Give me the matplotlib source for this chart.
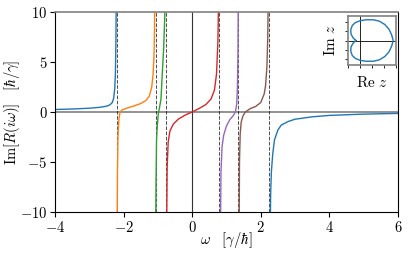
import numpy as np
import matplotlib
matplotlib.use("Agg")
import matplotlib.pyplot as plt

plt.rcParams['font.family'] = 'serif'
plt.rcParams['font.serif'] = ['cmr10', 'DejaVu Serif']
plt.rcParams['mathtext.fontset'] = 'cm'
plt.rcParams['axes.formatter.use_mathtext'] = True
plt.rcParams['font.size'] = 10.5

# polos (lineas discontinuas)
polos = [-2.2, -1.07, -0.77, 0.79, 1.35, 2.24]

# ramas de Im[R(iw)]
rama1_x = [-4.0, -3.5, -3.0, -2.7, -2.5, -2.4, -2.33, -2.29, -2.26, -2.24, -2.225, -2.215]
rama1_y = [0.25, 0.3, 0.38, 0.47, 0.58, 0.72, 0.95, 1.4, 2.3, 3.8, 7.0, 12.0]

rama2_x = [-2.19, -2.18, -2.165, -2.14, -2.11, -2.05, -1.9, -1.7, -1.5, -1.35, -1.25, -1.18, -1.14, -1.115, -1.1, -1.09]
rama2_y = [-12.0, -6.0, -2.5, -0.8, -0.1, 0.2, 0.4, 0.6, 0.85, 1.15, 1.6, 2.5, 3.8, 5.5, 8.0, 12.0]

rama3_x = [-1.065, -1.055, -1.04, -1.02, -0.99, -0.95, -0.91, -0.87, -0.83, -0.8, -0.785]
rama3_y = [-12.0, -7.0, -2.8, -1.5, -0.2, 0.5, 1.3, 4.0, 6.5, 9.5, 12.0]

rama4_x = [-0.745, -0.73, -0.7, -0.65, -0.55, -0.4, -0.2, 0.0, 0.2, 0.4, 0.55, 0.65, 0.71, 0.75, 0.775]
rama4_y = [-12.0, -5.5, -3.0, -1.9, -1.2, -0.7, -0.3, 0.0, 0.35, 0.75, 1.3, 2.2, 3.8, 7.0, 12.0]

rama5_x = [0.825, 0.84, 0.87, 0.92, 1.0, 1.1, 1.2, 1.26, 1.3, 1.32, 1.335, 1.345]
rama5_y = [-12.0, -6.0, -3.5, -2.3, -1.4, -0.75, -0.35, 0.0, 0.8, 2.5, 6.0, 12.0]

rama6_x = [1.37, 1.38, 1.40, 1.43, 1.48, 1.55, 1.7, 1.85, 2.0, 2.1, 2.14, 2.18, 2.205, 2.22]
rama6_y = [-12.0, -5.0, -2.2, -1.0, -0.4, 0.0, 0.35, 0.55, 0.95, 1.8, 2.6, 4.5, 7.5, 12.0]

rama7_x = [2.275, 2.29, 2.31, 2.35, 2.4, 2.5, 2.6, 2.8, 3.0, 3.5, 4.0, 5.0, 6.0]
rama7_y = [-12.0, -8.0, -6.0, -4.2, -2.8, -1.8, -1.3, -0.95, -0.72, -0.48, -0.34, -0.21, -0.14]

ramas = [(rama1_x, rama1_y, 'C0'), (rama2_x, rama2_y, 'C1'), (rama3_x, rama3_y, 'C2'),
         (rama4_x, rama4_y, 'C3'), (rama5_x, rama5_y, 'C4'), (rama6_x, rama6_y, 'C5'),
         (rama7_x, rama7_y, 'C0')]

# curva del inset (z en el plano complejo), mitad superior
z_re_sup = [-0.36, -0.6, -0.76, -0.78, -0.65, -0.4, 0.0, 0.5, 1.1, 1.6, 2.05, 2.4, 2.62, 2.75]
z_im_sup = [0.0, 0.3, 0.7, 1.15, 1.6, 1.9, 2.1, 2.2, 2.2, 2.05, 1.7, 1.2, 0.6, 0.0]

fig = plt.figure(figsize=(4.11, 2.54), dpi=100)
ax = fig.add_axes([0.134, 0.165, 0.834, 0.788])

ax.axhline(0, color='gray', lw=1.2)
ax.axvline(0, color='#333333', lw=0.8)
for p in polos:
    ax.axvline(p, color='k', ls='--', lw=0.7, alpha=0.7)
for xs, ys, c in ramas:
    ax.plot(xs, ys, color=c, lw=1.0)

ax.set_xlim(-4, 6)
ax.set_ylim(-10, 10)
ax.set_xticks([-4, -2, 0, 2, 4, 6])
ax.set_yticks([-10, -5, 0, 5, 10])
ax.tick_params(labelsize=10.5, pad=2)
ax.spines['top'].set_color('gray')
ax.spines['top'].set_linewidth(1.2)
ax.set_xlabel(r"$\omega\quad[\gamma/\hbar]$", fontsize=10.5)
ax.set_ylabel(r"$\mathrm{Im}[R(i\omega)]\quad[\hbar/\gamma]$", fontsize=10.5)
ax.xaxis.set_label_coords(0.5, -0.09)
ax.yaxis.set_label_coords(-0.097, 0.5)

# inset
ins = fig.add_axes([0.847, 0.744, 0.117, 0.193])
z_re = z_re_sup + z_re_sup[::-1][1:]
z_im = z_im_sup + [-v for v in z_im_sup[::-1][1:]]
ins.axhline(0, color='k', lw=0.6)
ins.axvline(0, color='k', lw=0.6)
ins.plot(z_re, z_im, color='C0', lw=1.0)
ins.set_xlim(-1, 3)
ins.set_ylim(-2.6, 2.6)
ins.set_xticks([-1, 0, 1, 2, 3])
ins.set_yticks([-2, -1, 0, 1, 2])
ins.set_xticklabels([])
ins.set_yticklabels([])
ins.tick_params(length=2, width=0.6)
for s in ins.spines.values():
    s.set_color('gray')
    s.set_linewidth(1.2)
ins.set_xlabel(r"$\mathrm{Re}\ z$", fontsize=11, labelpad=2)
ins.set_ylabel(r"$\mathrm{Im}\ z$", fontsize=11, labelpad=2)

fig.savefig("out.png", dpi=100)
